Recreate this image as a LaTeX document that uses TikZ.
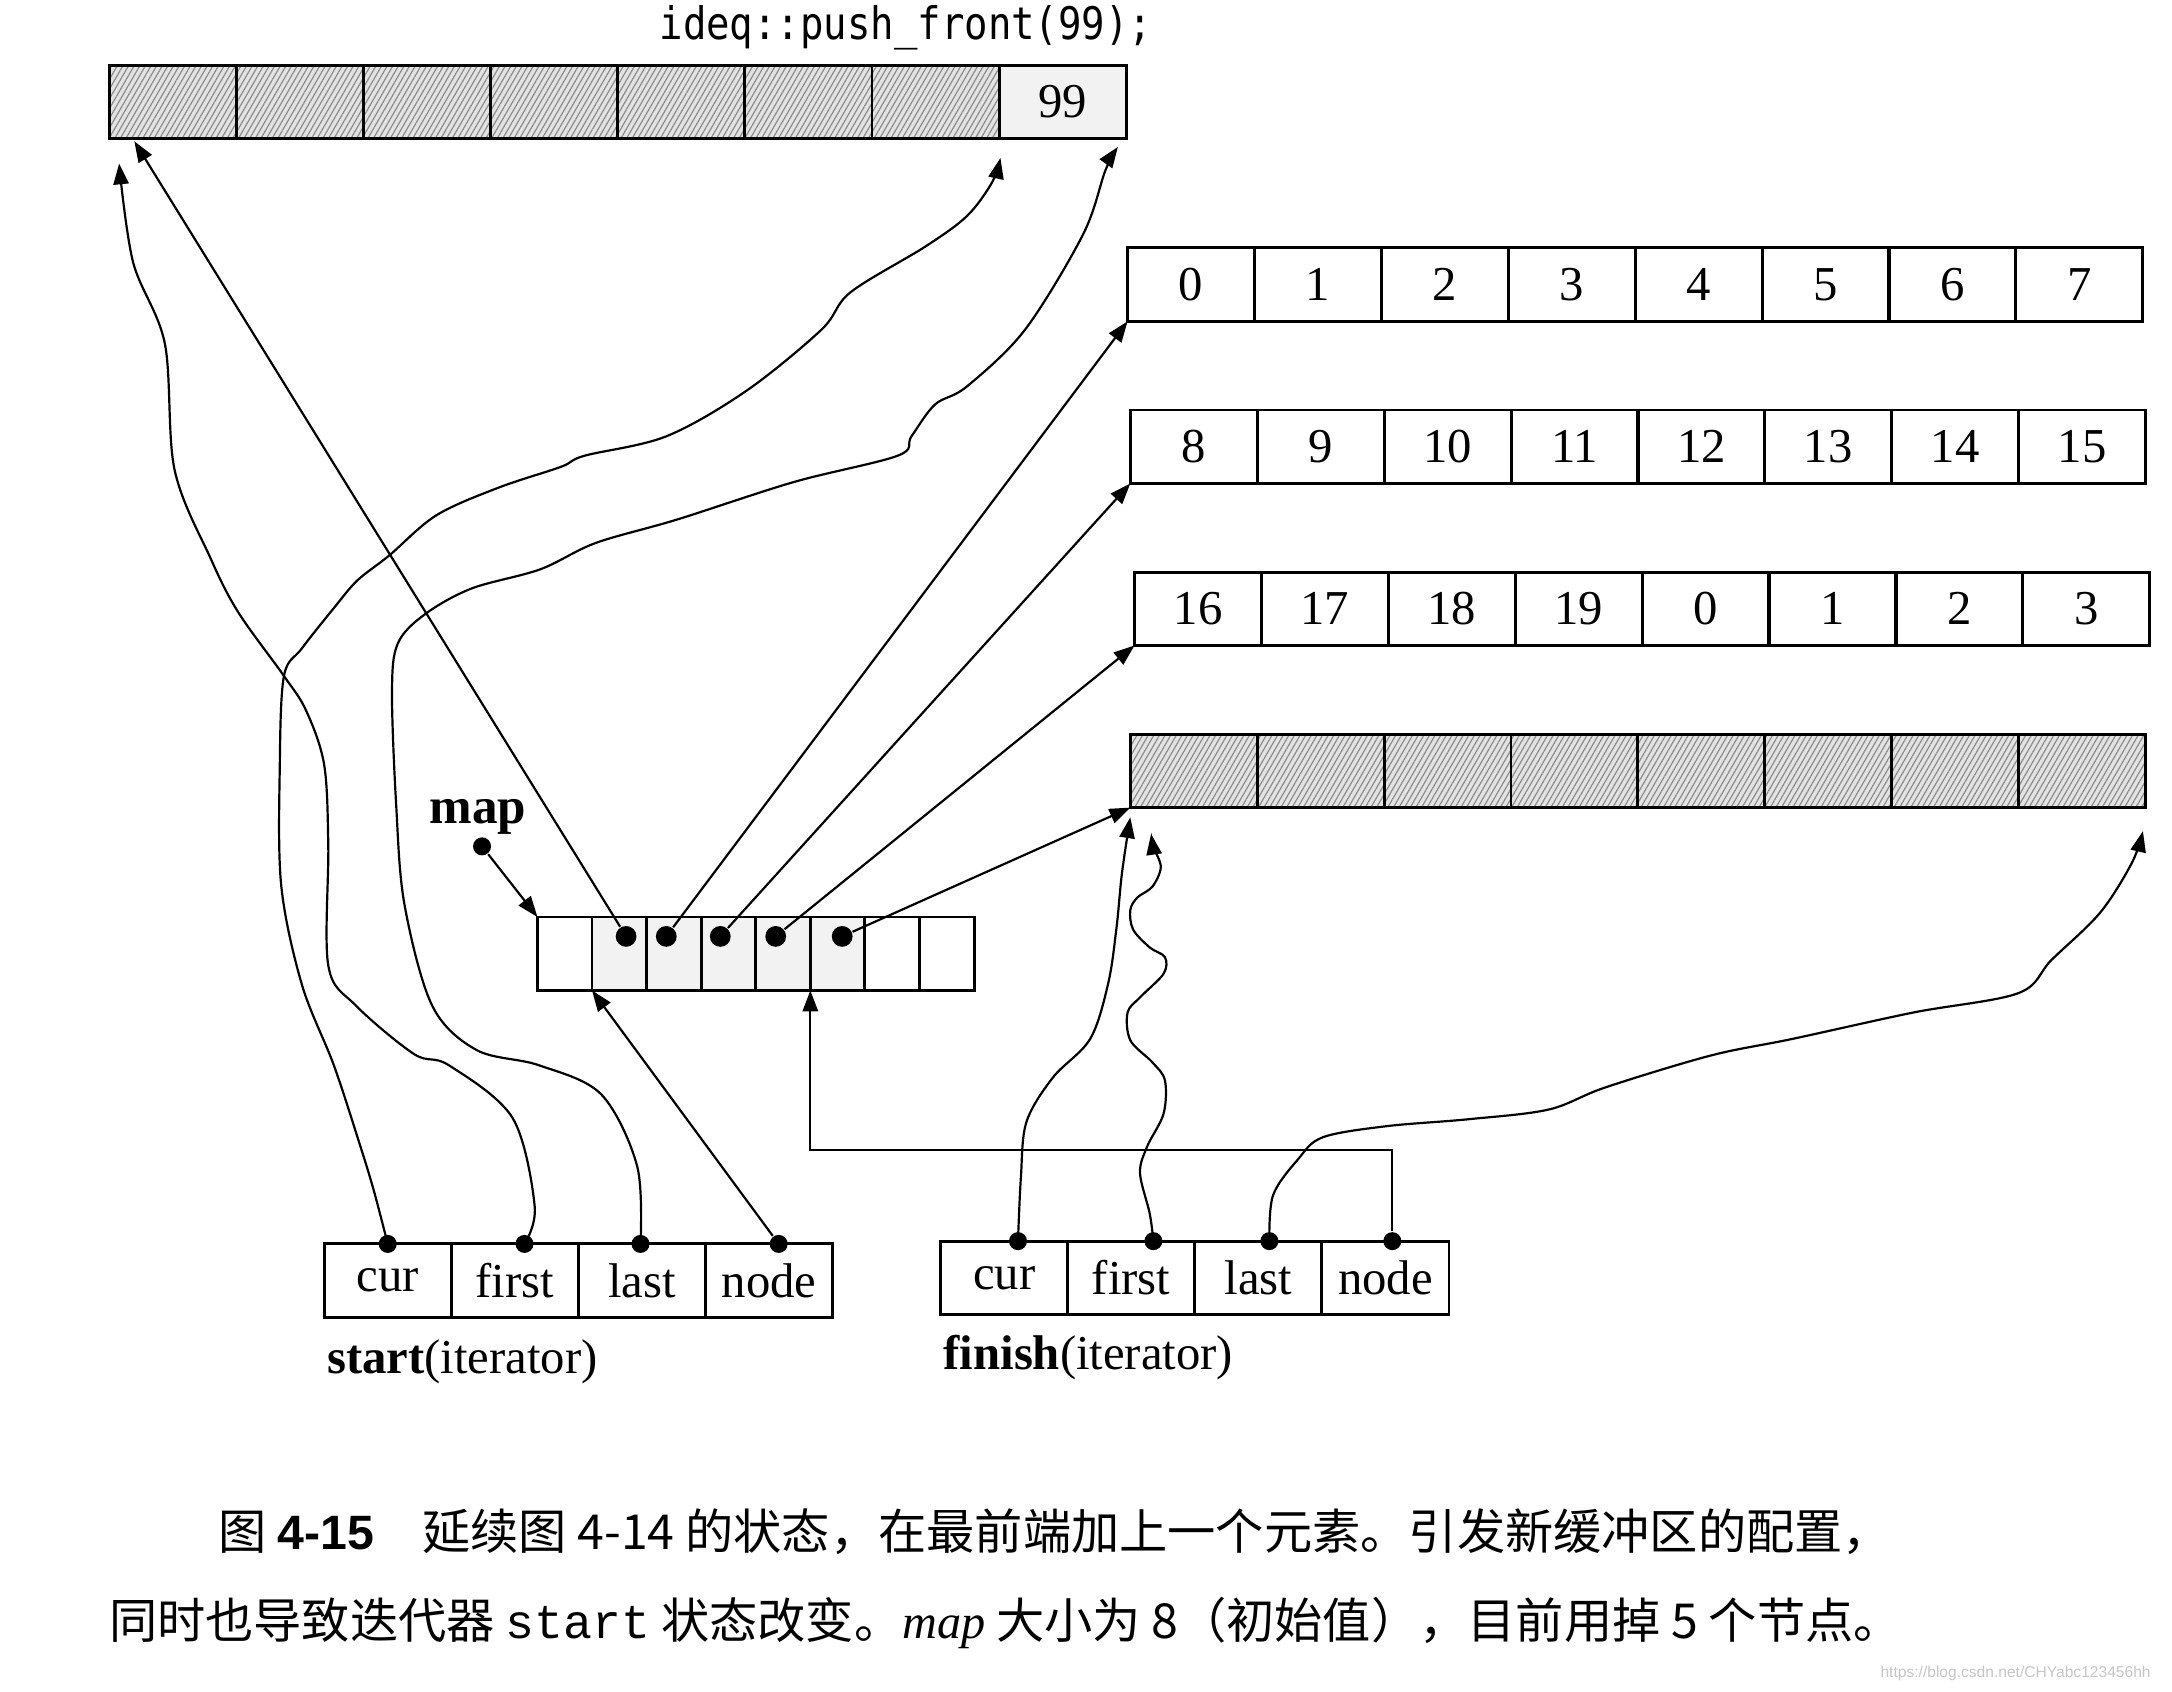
\documentclass[tikz,border=0pt]{standalone}
\usepackage{fontspec}
\setmainfont{Liberation Serif}
\setmonofont{Liberation Mono}
\newfontfamily\cjk{Noto Sans CJK SC}
\newfontfamily\codefont{DejaVu Sans Mono}
\newfontfamily\capsans{Liberation Sans}
\usetikzlibrary{positioning,arrows.meta,calc,patterns.meta}

\begin{document}
\begin{tikzpicture}[
  x=0.01cm, y=-0.01cm,
  font=\fontsize{10}{12}\selectfont,
  cell/.style={draw,line width=0.6pt,minimum width=9.175mm,minimum height=5.3mm,
               inner sep=0pt,outer sep=0pt,anchor=north west},
  mcell/.style={cell,minimum width=3.94mm},
  hatch/.style={preaction={fill=gray!22},
                pattern={Lines[angle=60,distance=1pt,line width=0.25pt]},
                pattern color=black!45},
  used/.style={fill=gray!10},
  dot/.style={circle,fill=black,inner sep=0pt,minimum size=1.3mm},
  mdot/.style={dot,minimum size=1.5mm},
  ptr/.style={-{Triangle[length=1.5mm,width=1.1mm]},line width=0.45pt},
  lbl/.style={inner sep=1pt,anchor=west},
  capt/.style={anchor=west,inner sep=0pt,font=\cjk\fontsize{9.9}{12}\selectfont},
]
\useasboundingbox (0,0) rectangle (1568,1221);

% ---------------------------------------------------------------- new buffer
\node[font=\codefont\fontsize{8}{10}\selectfont] (call) at (654,20)
  {\scalebox{1}[1.15]{ideq::push\_front(99);}};
\foreach \i in {0,...,6} \node[cell,hatch] (nb\i) at ({79+91.75*\i},47) {};
\node[cell,used] (nb7) at ({79+91.75*7},47) {99};

% ------------------------------------------------------------- old buffers
\foreach \v [count=\i from 0] in {0,...,7}
  \node[cell] (ba\i) at ({814+91.6*\i},179) {\v};
\foreach \v [count=\i from 0] in {8,...,15}
  \node[cell] (bb\i) at ({816+91.6*\i},296) {\v};
\foreach \v [count=\i from 0] in {16,17,18,19,0,1,2,3}
  \node[cell] (bc\i) at ({819+91.6*\i},413) {\v};
\foreach \i in {0,...,7} \node[cell,hatch] (bd\i) at ({816+91.6*\i},530) {};

% --------------------------------------------------------------------- map
\foreach \i in {0,6,7} \node[mcell] (mp\i) at ({388+39.4*\i},662) {};
\foreach \i in {1,...,5} \node[mcell,used] (mp\i) at ({388+39.4*\i},662) {};

\node[font=\bfseries\fontsize{10.5}{12}\selectfont] (maplbl) at (345,590) {map};
\node[dot] (mapd) at (348,611) {};
\draw[ptr] (mapd) -- (mp0.north west);

\foreach \i/\x in {1/452,2/481,3/520,4/560,5/608} \node[mdot] (md\i) at (\x,676) {};

\draw[ptr] (md1) -- ($(nb0.south west)+(18,2)$);
\foreach \i/\b in {2/ba,3/bb,4/bc,5/bd} \draw[ptr] (md\i) -- (\b0.south west);

% ---------------------------------------------------------------- iterators
\foreach \t [count=\i from 0] in {cur,first,last,node}
  \node[cell] (st\i) at ({234+91.75*\i},898) {\t};
\node[lbl] (stlbl) at (232,983) {\textbf{start}(iterator)};
\node[dot] (scur)   at (st0.north) {};
\node[dot] (sfirst) at ($(st1.north)+(7,0)$) {};
\node[dot] (slast)  at ($(st2.north)+(-1,0)$) {};
\node[dot] (snode)  at ($(st3.north)+(7,0)$) {};

\foreach \t [count=\i from 0] in {cur,first,last,node}
  \node[cell] (fi\i) at ({679+91.75*\i},896) {\t};
\node[lbl] (filbl) at (677,980) {\textbf{finish}(iterator)};
\node[dot] (fcur)   at ($(fi0.north)+(10,0)$) {};
\node[dot] (ffirst) at ($(fi1.north)+(16,0)$) {};
\node[dot] (flast)  at ($(fi2.north)+(8,0)$) {};
\node[dot] (fnode)  at ($(fi3.north)+(5,0)$) {};

% ----------------------------------------------------------- start pointers
\coordinate (tsf) at ($(nb0.south west)+(7,18)$);
\coordinate (tsc) at ($(nb7.south west)+(1,14)$);
\coordinate (tsl) at ($(nb7.south east)+(-6,6)$);

\draw[ptr] plot[smooth,tension=0.55] coordinates {(sfirst) (386,871) (370,807)
  (324,769) (299,761) (257,726) (237,697) (237,610) (234,552) (221,513)
  (205,488) (172,442) (152,403) (126,339) (119,248) (96,189) (tsf)};
\draw[ptr] plot[smooth,tension=0.55] coordinates {(scur) (270,860) (260,827)
  (241,769) (218,711) (203,639) (202,552) (205,488) (218,468) (241,439)
  (258,419) (281,401) (315,372) (360,352) (405,337) (422,329) (481,315)
  (539,282) (593,238) (614,211) (668,178) (698,156) (716,132) (tsc)};
\draw[ptr] plot[smooth,tension=0.55] coordinates {(slast) (460,842) (434,790)
  (389,769) (344,758) (312,726) (292,653) (286,581) (283,500) (287,465)
  (306,444) (340,425) (390,411) (430,392) (489,375) (573,348) (648,329)
  (658,315) (675,292) (698,279) (740,238) (782,169) (798,123) (tsl)};
\draw[ptr] (snode) -- (mp1.south west);

% ---------------------------------------------------------- finish pointers
\coordinate (tfc) at ($(bd0.south west)+(0,7)$);
\coordinate (tff) at ($(bd0.south west)+(15,19)$);
\coordinate (tfl) at ($(bd7.south east)+(-2,17)$);

\draw[ptr] plot[smooth,tension=0.55] coordinates {(fcur) (737,850) (741,810)
  (760,778) (787,750) (800,710) (806,670) (810,630) (tfc)};
\draw[ptr] plot[smooth,tension=0.55] coordinates {(ffirst) (830,876) (823,847)
  (828,828) (840,804) (841,780) (832,767) (816,751) (814,731) (823,720)
  (840,703) (841,691) (830,684) (818,671) (816,657) (821,648) (832,640)
  (838,626) (833,612) (tff)};
\draw[ptr] plot[smooth,tension=0.55] coordinates {(flast) (919,863) (937,837)
  (955,821) (1001,813) (1060,808) (1118,801) (1159,785) (1235,762)
  (1294,750) (1381,731) (1457,717) (1481,693) (1516,659) (1539,623) (tfl)};
\draw[ptr] (fnode) -- ++(0,-66) -| (mp5.south west);

% ------------------------------------------------------------------ caption
\node[capt] (cap1) at (157,1106)
  {图 {\capsans\bfseries 4-15}\quad 延续图 4-14 的状态，在最前端加上一个元素。引发新缓冲区的配置，};
\node[capt] (cap2) at (78,1172)
  {同时也导致迭代器 {\ttfamily start} 状态改变。{\rmfamily\itshape map} 大小为 8（初始值），目前用掉 5 个节点。};
\node[anchor=east,font=\capsans\fontsize{3.2}{4}\selectfont,text=gray!45] (wm)
  at (1565,1208) {https://blog.csdn.net/CHYabc123456hh};

\end{tikzpicture}
\end{document}
